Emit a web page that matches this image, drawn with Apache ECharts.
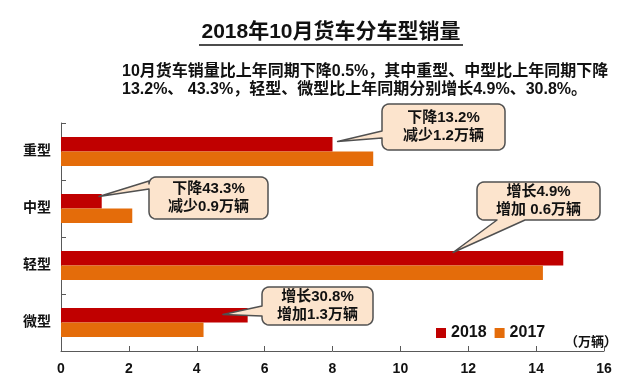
<!DOCTYPE html>
<html>
<head>
<meta charset="utf-8">
<script src="https://cdn.jsdelivr.net/npm/echarts@6/dist/echarts.min.js"></script>
<style>
html,body{margin:0;padding:0;background:#fff;}
#chart{width:640px;height:382px;}
</style>
</head>
<body>
<div id="chart"></div>
<script>
const categories = ['重型', '中型', '轻型', '微型'];
const sales2018 = [8.0, 1.2, 14.8, 5.5];
const sales2017 = [9.2, 2.1, 14.2, 4.2];
const seriesNames = ['2018', '2017'];
const xTickLabels = ['0', '2', '4', '6', '8', '10', '12', '14', '16'];
const titleText = '2018年10月货车分车型销量';
const subtitleLines = [
  '10月货车销量比上年同期下降0.5%，其中重型、中型比上年同期下降',
  '13.2%、 43.3%，轻型、微型比上年同期分别增长4.9%、30.8%。'
];
const unitText = '（万辆）';
const noteTexts = [
  ['下降13.2%', '减少1.2万辆'],
  ['下降43.3%', '减少0.9万辆'],
  ['增长4.9%', '增加 0.6万辆'],
  ['增长30.8%', '增加1.3万辆']
];
// anchor of each callout pointer (value on x axis, category) and callout box layout
const noteAnchors = [
  { cat: '重型', value: 8.15, dy: -10 },
  { cat: '中型', value: 1.12, dy: -12 },
  { cat: '轻型', value: 11.55, dy: -13 },
  { cat: '微型', value: 4.77, dy: -8 }
];
const noteBoxes = [
  { x: 382, y: 104, w: 123, h: 46, side: 'left', b1: 131, b2: 138 },
  { x: 149, y: 177, w: 119, h: 42, side: 'left', b1: 181, b2: 189 },
  { x: 477, y: 182, w: 123, h: 38, side: 'bottom', b1: 497, b2: 525 },
  { x: 262, y: 287, w: 111, h: 38, side: 'left', b1: 306, b2: 316 }
];

const FONT = '"Liberation Sans", "Noto Sans CJK SC", sans-serif';
const chart = echarts.init(document.getElementById('chart'), null, { renderer: 'canvas' });

const option = {
  animation: false,
  backgroundColor: '#fff',
  textStyle: { fontFamily: FONT },
  grid: { left: 61, right: 36, top: 123, bottom: 31 },
  legend: {
    data: seriesNames,
    left: 431, top: 320,
    icon: 'rect', itemWidth: 10, itemHeight: 10, itemGap: 8,
    textStyle: { fontSize: 16, fontWeight: 'bold', color: '#111', fontFamily: FONT }
  },
  xAxis: {
    type: 'value', min: 0, max: 16, interval: 2,
    axisLine: { show: true, lineStyle: { color: '#595959', width: 1 } },
    axisTick: { show: true, inside: true, length: 5, lineStyle: { color: '#595959' } },
    splitLine: { show: false },
    axisLabel: {
      margin: 11, fontSize: 14, fontWeight: 'bold', color: '#111', fontFamily: FONT,
      formatter: function (v) { return xTickLabels[Math.round(v / 2)]; }
    }
  },
  yAxis: {
    type: 'category', data: categories, inverse: true,
    axisLine: { show: true, lineStyle: { color: '#595959', width: 1 } },
    axisTick: { show: true, inside: true, length: 5, lineStyle: { color: '#595959' } },
    axisLabel: { margin: 10, fontSize: 14, fontWeight: 'bold', color: '#111', fontFamily: FONT }
  },
  series: [
    { name: seriesNames[0], type: 'bar', data: sales2018, barWidth: 14.5, barGap: '0%',
      itemStyle: { color: '#C00000' } },
    { name: seriesNames[1], type: 'bar', data: sales2017, barWidth: 14.5, barGap: '0%',
      itemStyle: { color: '#E46C0A' } }
  ]
};
chart.setOption(option);

function arcPts(cx, cy, r, a0, a1) {
  const pts = [];
  const n = 5;
  for (let k = 0; k <= n; k++) {
    const a = (a0 + (a1 - a0) * k / n) * Math.PI / 180;
    pts.push([cx + r * Math.cos(a), cy + r * Math.sin(a)]);
  }
  return pts;
}
function bubblePoints(b, tip) {
  const x = b.x, y = b.y, w = b.w, h = b.h, r = 7;
  let pts = [];
  pts = pts.concat(arcPts(x + r, y + r, r, 180, 270));
  pts = pts.concat(arcPts(x + w - r, y + r, r, 270, 360));
  pts = pts.concat(arcPts(x + w - r, y + h - r, r, 0, 90));
  if (b.side === 'bottom') pts.push([b.b2, y + h], tip, [b.b1, y + h]);
  pts = pts.concat(arcPts(x + r, y + h - r, r, 90, 180));
  if (b.side === 'left') pts.push([x, b.b2], tip, [x, b.b1]);
  return pts;
}

const graphics = [];
graphics.push({
  type: 'text', x: 331, y: 32,
  style: { text: titleText, fill: '#111', font: 'bold 21px ' + FONT, textAlign: 'center', textVerticalAlign: 'middle' }
});
graphics.push({
  type: 'line', shape: { x1: 199, y1: 45, x2: 463, y2: 45 },
  style: { stroke: '#111', lineWidth: 1.5 }
});
subtitleLines.forEach(function (t, i) {
  graphics.push({
    type: 'text', x: 122, y: 72 + i * 18,
    style: { text: t, fill: '#111', font: 'bold 16px ' + FONT, textAlign: 'left', textVerticalAlign: 'middle' }
  });
});
graphics.push({
  type: 'text', x: 617, y: 342,
  style: { text: unitText, fill: '#111', font: 'bold 13px ' + FONT, textAlign: 'right', textVerticalAlign: 'middle' }
});
noteAnchors.forEach(function (a, i) {
  const p = chart.convertToPixel({ gridIndex: 0 }, [a.value, a.cat]);
  const tip = [p[0], p[1] + a.dy];
  const b = noteBoxes[i];
  graphics.push({
    type: 'polygon', shape: { points: bubblePoints(b, tip) },
    style: { fill: '#FCE4CD', stroke: '#505050', lineWidth: 1.5, lineJoin: 'round' }, z: 10
  });
  graphics.push({
    type: 'text', x: b.x + b.w / 2, y: b.y + b.h / 2, z: 11,
    style: { text: noteTexts[i].join('\n'), fill: '#111', font: 'bold 15px ' + FONT,
      textAlign: 'center', textVerticalAlign: 'middle', lineHeight: 18 }
  });
});
chart.setOption({ graphic: graphics });
</script>
</body>
</html>
